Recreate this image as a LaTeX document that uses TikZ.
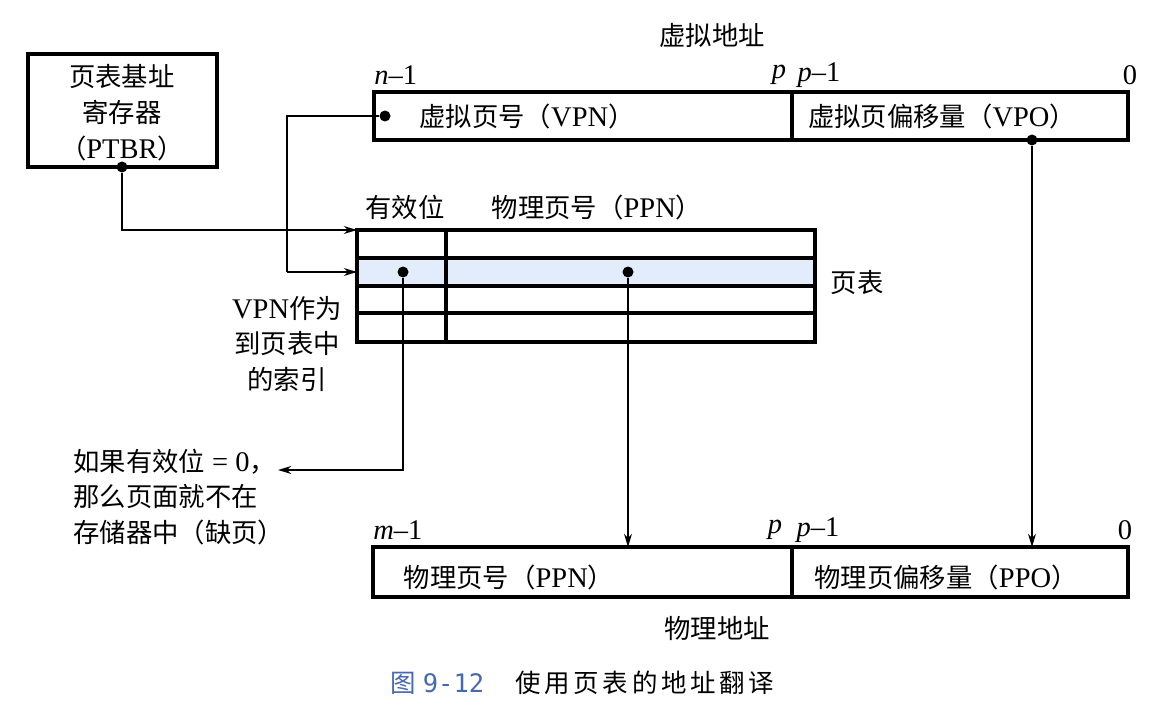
\documentclass[tikz,border=0pt]{standalone}
\usepackage{fontspec}
\setmainfont{Liberation Serif}[Scale=1.08]
\newfontfamily\cjk{Noto Sans CJK SC}
\newfontfamily\cjkcap[LetterSpace=14]{Noto Sans CJK SC}
\newfontfamily\capnum{DejaVu Sans Mono}
\usetikzlibrary{arrows.meta}
\definecolor{rowblue}{RGB}{226,236,250}
\definecolor{capblue}{RGB}{70,105,175}

\begin{document}
\begin{tikzpicture}[x=0.02cm, y=-0.02cm,
        frame/.style={line width=1.8pt},
        wire/.style={line width=1pt},
        arr/.style={wire, -{Stealth[length=7.5pt,width=4.5pt]}},
        dot/.style={circle, fill, inner sep=0pt, minimum size=0.22cm},
        lbl/.style={font=\fontsize{15}{20.4}\selectfont, inner sep=0pt}]
    \useasboundingbox (0,0) rectangle (1166,726);

    % page table base register
    \draw[frame] (28,54) rectangle (217,167);
    \node[lbl, align=center] (ptbr) at (122,113) {{\cjk 页表基址}\\{\cjk 寄存器}\\{\cjk （}PTBR{\cjk ）}};
    \node[dot] (ptbrdot) at (122,167) {};

    % virtual address
    \node[lbl] (vaname) at (712,35) {\cjk 虚拟地址};
    \node[lbl, anchor=west] (vahi) at (374,75) {\textit{n}–1};
    \node[lbl] (vap) at (779,75) {\textit{p}};
    \node[lbl] (vapm) at (819,75) {\textit{p}–1};
    \node[lbl] (valo) at (1130,75) {0};
    \draw[frame] (374,92) rectangle (1128,140);
    \draw[frame] (792,92) -- (792,140);
    \node[lbl] (vpn) at (527,116) {{\cjk 虚拟页号（}VPN{\cjk ）}};
    \node[lbl] (vpo) at (942,116) {{\cjk 虚拟页偏移量（}VPO{\cjk ）}};
    \node[dot] (vpndot) at (385,116) {};
    \node[dot] (vpodot) at (1032,140) {};

    % page table
    \fill[rowblue] (357,258) rectangle (815,286);
    \draw[frame] (357,230) rectangle (815,342);
    \foreach \y in {258,286,313}
        \draw[frame] (357,\y) -- (815,\y);
    \draw[frame] (446,230) -- (446,342);
    \node[lbl] (validhd) at (405,207) {\cjk 有效位};
    \node[lbl] (ppnhd) at (597,207) {{\cjk 物理页号（}PPN{\cjk ）}};
    \node[lbl] (ptname) at (857,283) {\cjk 页表};
    \coordinate (pte0) at (357,230);
    \coordinate (pte1) at (357,272);
    \coordinate (vpnbend) at (287,272);
    \node[dot] (validdot) at (403,272) {};
    \node[dot] (ppndot) at (628,272) {};

    % notes on the left
    \node[lbl, align=center] (idxnote) at (287,344) {VPN{\cjk 作为}\\{\cjk 到页表中}\\{\cjk 的索引}};
    \node[lbl, align=left, anchor=west] (faultnote) at (73,497) {{\cjk 如果有效位} = 0{\cjk ，}\\{\cjk 那么页面就不在}\\{\cjk 存储器中（缺页）}};
    \coordinate (faultend) at (278,470);

    % physical address
    \node[lbl, anchor=west] (pahi) at (373,530) {\textit{m}–1};
    \node[lbl] (pap) at (775,530) {\textit{p}};
    \node[lbl] (papm) at (818,530) {\textit{p}–1};
    \node[lbl] (palo) at (1125,530) {0};
    \draw[frame] (373,547) rectangle (1128,597);
    \draw[frame] (792,547) -- (792,597);
    \node[lbl] (ppn) at (509,577) {{\cjk 物理页号（}PPN{\cjk ）}};
    \node[lbl] (ppo) at (946,577) {{\cjk 物理页偏移量（}PPO{\cjk ）}};
    \coordinate (ppntop) at (628,547);
    \coordinate (ppotop) at (1032,547);
    \node[lbl] (paname) at (717,628) {\cjk 物理地址};

    % connectors
    \draw[arr] (ptbrdot) |- (pte0);
    \draw[wire] (vpndot) -| (vpnbend);
    \draw[arr] (vpnbend) -- (pte1);
    \draw[arr] (validdot) |- (faultend);
    \draw[arr] (ppndot) -- (ppntop);
    \draw[arr] (vpodot) -- (ppotop);

    % caption
    \node[lbl, font=\fontsize{14.5}{18}\selectfont] (caption) at (582,683)
        {{\color{capblue}\cjk 图}\hspace{4pt}{\color{capblue}\capnum 9-12}\hspace{18pt}{\cjkcap 使用页表的地址翻译}};
\end{tikzpicture}
\end{document}
